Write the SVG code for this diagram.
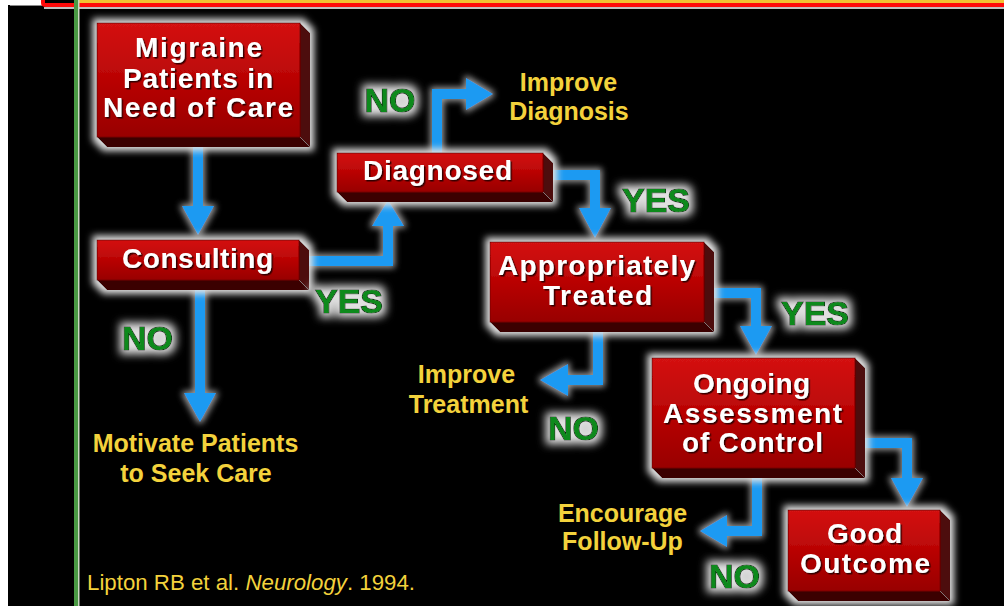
<svg xmlns="http://www.w3.org/2000/svg" width="1004" height="606" viewBox="0 0 1004 606">
  <defs>
    <style>
      .face { fill: url(#faceGrad); stroke: #7a0000; stroke-width: 1; }
      .side { fill: #4e0b0b; }
      .bottom { fill: #3a0606; }
      .btxt { font-family: "Liberation Sans", Arial, sans-serif; font-weight: bold; font-size: 28px; fill: #ffffff; text-anchor: middle; filter: url(#txtShadow); }
      .yn { font-family: "Liberation Sans", Arial, sans-serif; font-weight: bold; font-size: 34px; fill: #0a8a1c; stroke: #0b1a0b; stroke-width: 1.2; paint-order: stroke; text-anchor: middle; }
      .note { font-family: "Liberation Sans", Arial, sans-serif; font-weight: bold; font-size: 25px; fill: #f3d23c; text-anchor: middle; }
      .cite { font-family: "Liberation Sans", Arial, sans-serif; font-size: 21.5px; fill: #f3d23c; }
      .shaft { fill: none; stroke: #1f9af2; stroke-width: 10; stroke-linejoin: miter; }
      .head { fill: #1f9af2; }
    </style>
    <linearGradient id="faceGrad" x1="0" y1="0" x2="0" y2="1">
      <stop offset="0" stop-color="#d41212"/>
      <stop offset="0.45" stop-color="#bc0606"/>
      <stop offset="1" stop-color="#980000"/>
    </linearGradient>
    <!-- soft light halo around boxes -->
    <filter id="boxHalo" x="-20%" y="-30%" width="140%" height="160%">
      <feMorphology in="SourceAlpha" operator="dilate" radius="4" result="d"/>
      <feGaussianBlur in="d" stdDeviation="3.5" result="b"/>
      <feFlood flood-color="#e4e4e4" flood-opacity="1"/>
      <feComposite in2="b" operator="in" result="g"/>
      <feMerge><feMergeNode in="g"/><feMergeNode in="SourceGraphic"/></feMerge>
    </filter>
    <!-- halo around arrows -->
    <filter id="arrowHalo" x="-10%" y="-10%" width="120%" height="120%">
      <feMorphology in="SourceAlpha" operator="dilate" radius="2" result="d"/>
      <feGaussianBlur in="d" stdDeviation="3" result="b"/>
      <feFlood flood-color="#c0c0c0" flood-opacity="0.8"/>
      <feComposite in2="b" operator="in" result="g"/>
      <feMerge><feMergeNode in="g"/><feMergeNode in="SourceGraphic"/></feMerge>
    </filter>
    <!-- halo behind YES / NO -->
    <filter id="labelHalo" x="-30%" y="-40%" width="160%" height="180%">
      <feMorphology in="SourceAlpha" operator="dilate" radius="4" result="d"/>
      <feGaussianBlur in="d" stdDeviation="4" result="b"/>
      <feFlood flood-color="#e0e0e0" flood-opacity="1"/>
      <feComposite in2="b" operator="in" result="g"/>
      <feMerge><feMergeNode in="g"/><feMergeNode in="SourceGraphic"/></feMerge>
    </filter>
    <filter id="txtShadow" x="-5%" y="-20%" width="110%" height="140%">
      <feDropShadow dx="1.5" dy="1.5" stdDeviation="0.6" flood-color="#200000" flood-opacity="0.9"/>
    </filter>
  </defs>

  <!-- backdrop and frame -->
  <rect x="0" y="0" width="1004" height="606" fill="#000000"/>
  <rect x="0" y="0" width="8" height="606" fill="#ffffff"/>
  <rect x="8" y="0" width="35" height="5" fill="#ffffff"/>
  <line x1="10" y1="5.5" x2="42" y2="5.5" stroke="#8a8a8a" stroke-width="1"/>
  <rect x="79" y="0" width="925" height="3.5" fill="#f2c232"/>
  <path d="M43,0 V3 Q43,5 46,5 H1004" fill="none" stroke="#ff0a0a" stroke-width="4"/>
  <line x1="44" y1="8" x2="1004" y2="8" stroke="#ffffff" stroke-width="1.5"/>
  <rect x="74" y="0" width="4" height="606" fill="#4a9a44"/>
  <rect x="78" y="0" width="1.5" height="606" fill="#c8d8c0"/>

  <!-- connectors -->
  <g id="connectors" filter="url(#arrowHalo)">
    <path class="shaft" d="M198,147 V208"/>
    <polygon class="head" points="182,206 214,206 198,235"/>
    <path class="shaft" d="M200,290 V395"/>
    <polygon class="head" points="184,393 216,393 200,422"/>
    <path class="shaft" d="M309,261 H388 V224"/>
    <polygon class="head" points="372,226 404,226 388,200"/>
    <path class="shaft" d="M437,153 V94 H468"/>
    <polygon class="head" points="466,78 466,110 493,94"/>
    <path class="shaft" d="M553,175 H595 V210"/>
    <polygon class="head" points="579,208 611,208 595,238"/>
    <path class="shaft" d="M598,332 V380 H566"/>
    <polygon class="head" points="568,364 568,396 540,380"/>
    <path class="shaft" d="M714,293 H756 V328"/>
    <polygon class="head" points="740,326 772,326 756,355"/>
    <path class="shaft" d="M757,478 V531 H725"/>
    <polygon class="head" points="727,515 727,547 700,531"/>
    <path class="shaft" d="M865,443 H907 V480"/>
    <polygon class="head" points="891,478 923,478 907,507"/>
  </g>

  <!-- nodes -->
  <g id="node-migraine" filter="url(#boxHalo)">
    <polygon class="side" points="300,23 310,33 310,147 300,137"/>
    <polygon class="bottom" points="97,137 300,137 310,147 107,147"/>
    <rect class="face" x="97" y="23" width="203" height="114"/>
    <text class="btxt" x="198.5" y="57" textLength="127" lengthAdjust="spacing">Migraine</text>
    <text class="btxt" x="198" y="88" textLength="150" lengthAdjust="spacing">Patients in</text>
    <text class="btxt" x="198" y="117" textLength="190" lengthAdjust="spacing">Need of Care</text>
  </g>
  <g id="node-consulting" filter="url(#boxHalo)">
    <polygon class="side" points="299,240 309,250 309,290 299,280"/>
    <polygon class="bottom" points="97,280 299,280 309,290 107,290"/>
    <rect class="face" x="97" y="240" width="202" height="40"/>
    <text class="btxt" x="197.5" y="268" textLength="151" lengthAdjust="spacing">Consulting</text>
  </g>
  <g id="node-diagnosed" filter="url(#boxHalo)">
    <polygon class="side" points="543,153 553,163 553,202 543,192"/>
    <polygon class="bottom" points="337,192 543,192 553,202 347,202"/>
    <rect class="face" x="337" y="153" width="206" height="39"/>
    <text class="btxt" x="437.5" y="180" textLength="149" lengthAdjust="spacing">Diagnosed</text>
  </g>
  <g id="node-treated" filter="url(#boxHalo)">
    <polygon class="side" points="704,242 714,252 714,332 704,322"/>
    <polygon class="bottom" points="490,322 704,322 714,332 500,332"/>
    <rect class="face" x="490" y="242" width="214" height="80"/>
    <text class="btxt" x="596.5" y="275" textLength="197" lengthAdjust="spacing">Appropriately</text>
    <text class="btxt" x="597.5" y="305" textLength="109" lengthAdjust="spacing">Treated</text>
  </g>
  <g id="node-assessment" filter="url(#boxHalo)">
    <polygon class="side" points="855,358 865,368 865,478 855,468"/>
    <polygon class="bottom" points="652,468 855,468 865,478 662,478"/>
    <rect class="face" x="652" y="358" width="203" height="110"/>
    <text class="btxt" x="751.5" y="393" textLength="117" lengthAdjust="spacing">Ongoing</text>
    <text class="btxt" x="752.5" y="423" textLength="179" lengthAdjust="spacing">Assessment</text>
    <text class="btxt" x="752.5" y="452" textLength="141" lengthAdjust="spacing">of Control</text>
  </g>
  <g id="node-outcome" filter="url(#boxHalo)">
    <polygon class="side" points="940,510 950,520 950,601 940,591"/>
    <polygon class="bottom" points="788,591 940,591 950,601 798,601"/>
    <rect class="face" x="788" y="510" width="152" height="81"/>
    <text class="btxt" x="864.5" y="543" textLength="75" lengthAdjust="spacing">Good</text>
    <text class="btxt" x="865" y="573" textLength="130" lengthAdjust="spacing">Outcome</text>
  </g>

  <!-- branch labels -->
  <g id="branch-labels" filter="url(#labelHalo)">
    <text class="yn" x="390" y="112">NO</text>
    <text class="yn" x="656" y="212">YES</text>
    <text class="yn" x="349" y="313">YES</text>
    <text class="yn" x="147.5" y="350">NO</text>
    <text class="yn" x="815" y="325">YES</text>
    <text class="yn" x="573.5" y="440">NO</text>
    <text class="yn" x="734.5" y="588">NO</text>
  </g>

  <!-- outcome notes -->
  <g id="note-diagnosis">
    <text class="note" x="568.5" y="91">Improve</text>
    <text class="note" x="569" y="120">Diagnosis</text>
  </g>
  <g id="note-treatment">
    <text class="note" x="466.5" y="383">Improve</text>
    <text class="note" x="468.5" y="413">Treatment</text>
  </g>
  <g id="note-followup">
    <text class="note" x="622.5" y="522">Encourage</text>
    <text class="note" x="622.5" y="550">Follow-Up</text>
  </g>
  <g id="note-motivate">
    <text class="note" x="195.5" y="452">Motivate Patients</text>
    <text class="note" x="196" y="482">to Seek Care</text>
  </g>

  <text class="cite" x="87" y="590" textLength="328" lengthAdjust="spacingAndGlyphs">Lipton RB et al. <tspan font-style="italic">Neurology</tspan>. 1994.</text>
</svg>
